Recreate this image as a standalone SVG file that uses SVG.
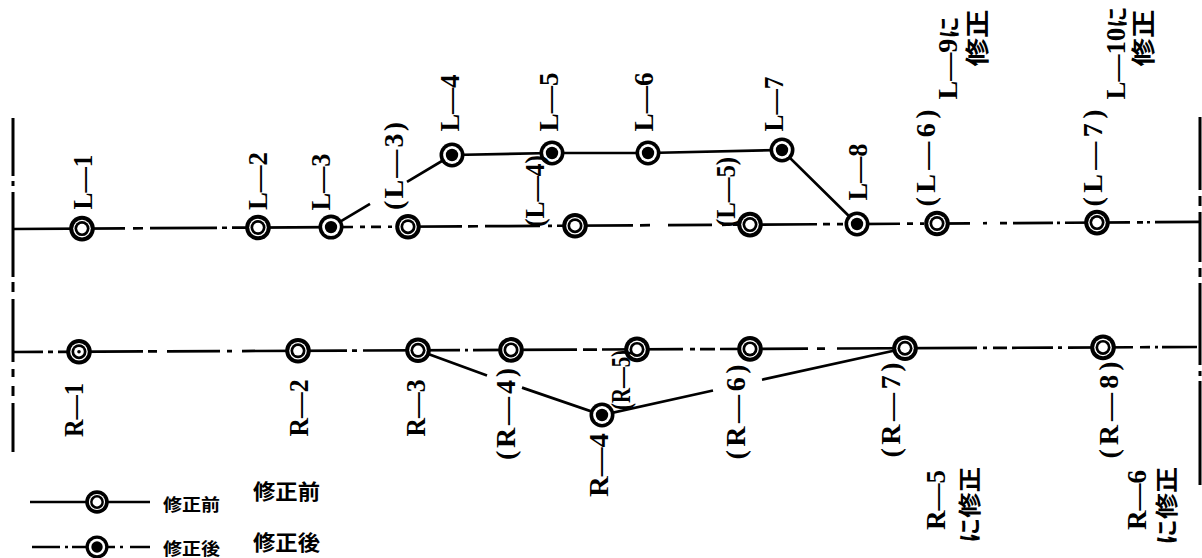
<svg xmlns="http://www.w3.org/2000/svg" width="1202" height="558" viewBox="0 0 1202 558">
<style>
.ln{fill:none;stroke:#000;stroke-width:2.7;stroke-linecap:butt}
.bd{fill:none;stroke:#000;stroke-width:3}
.lb{font-family:"Liberation Serif","Noto Sans CJK JP",serif;font-weight:bold;font-size:28px;fill:#000}
.jp{font-family:"Noto Sans CJK JP",sans-serif;font-weight:bold;fill:#000}
</style>
<defs>
<g id="open"><circle r="12.8" fill="#000"/><circle r="8.8" fill="#fff"/><circle r="7.5" fill="#000"/><circle r="4.8" fill="#fff"/></g>
<g id="filled"><circle r="12.5" fill="#000"/><circle r="8.9" fill="#fff"/><circle r="6.2" fill="#000"/></g>
</defs>
<rect width="1202" height="558" fill="#fff"/>
<g id="connectors">
<path class="bd" d="M13 118V176M13 181V186M13 192V277M13 282V292M13 299V362M13 369V377M13 386V396M13 403V452"/>
<path class="bd" d="M1200 117V190M1200 196V206M1200 212V262M1200 268V277M1200 283V365M1200 371V376M1200 381V485"/>
<path class="ln" transform="rotate(-0.34 13 229)" d="M13 229H125M133 229H143M150 229H217M222 229H227M232 229H331M331 229H353M360 229H365M371 229H381M388 229H392M396 229H462M468 229H478M485 229H540M548 229H552M557 229H633M640 229H650M668 229H712M722 229H727M733 229H817M823 229H830M837 229H843M848 229H900M907 229H913M920 229H924M930 229H970M983 229H987M1000 229H1007M1013 229H1053M1057 229H1060M1065 229H1130M1137 229H1143M1147 229H1150M1155 229H1200"/>
<path class="ln" transform="rotate(-0.242 13 352)" d="M13 352H43M48 352H53M58 352H143M148 352H157M167 352H220M227 352H232M242 352H347M352 352H357M363 352H460M465 352H468M473 352H577M583 352H597M602 352H683M690 352H695M700 352H715M720 352H808M817 352H825M837 352H977M983 352H987M993 352H1007M1012 352H1053M1058 352H1062M1068 352H1133M1140 352H1150M1155 352H1158M1162 352H1197"/>
<path class="ln" d="M331 227.1L370 203.8M407 181.8L452 155M452 155L552 153L648 153L782 150L857 224"/>
<path class="ln" d="M418 350.3L487 375.6M522 387.6L602 415L713 390.5M762 379.7L905 348.2"/>
<path class="ln" d="M30 502H150M32 547H60M65 547H68M72 547H86M108 547H115M120 547H123M130 547H150"/>
</g>
<g id="n-L1"><use href="#open" x="82" y="228.6"/><text class="lb" transform="translate(82,182) rotate(-90)" y="9.5" text-anchor="middle" textLength="55" lengthAdjust="spacingAndGlyphs">L—1</text></g>
<g id="n-L2"><use href="#open" x="258" y="227.5"/><text class="lb" transform="translate(257,181) rotate(-90)" y="9.5" text-anchor="middle" textLength="58" lengthAdjust="spacingAndGlyphs">L—2</text></g>
<g id="n-L3"><use href="#filled" x="331" y="227.1"/><text class="lb" transform="translate(320,182) rotate(-90)" y="9.5" text-anchor="middle" textLength="57" lengthAdjust="spacingAndGlyphs">L—3</text></g>
<g id="n-L3old"><use href="#open" x="408" y="226.7"/><text class="lb" transform="translate(393,166) rotate(-90)" y="9.5" text-anchor="middle" textLength="88" lengthAdjust="spacing">(L—3)</text></g>
<g id="n-L4"><use href="#filled" x="452" y="155"/><text class="lb" transform="translate(449,103) rotate(-90)" y="9.5" text-anchor="middle" textLength="57" lengthAdjust="spacingAndGlyphs">L—4</text></g>
<g id="n-L5"><use href="#filled" x="552" y="153"/><text class="lb" transform="translate(548,102) rotate(-90)" y="9.5" text-anchor="middle" textLength="59" lengthAdjust="spacingAndGlyphs">L—5</text></g>
<g id="n-L6"><use href="#filled" x="648" y="153"/><text class="lb" transform="translate(643,102) rotate(-90)" y="9.5" text-anchor="middle" textLength="59" lengthAdjust="spacingAndGlyphs">L—6</text></g>
<g id="n-L7"><use href="#filled" x="782" y="150"/><text class="lb" transform="translate(773,104) rotate(-90)" y="9.5" text-anchor="middle" textLength="55" lengthAdjust="spacingAndGlyphs">L—7</text></g>
<g id="n-L4old"><use href="#open" x="575" y="225.7"/><text class="lb" transform="translate(534,191) rotate(-90)" y="9.5" text-anchor="middle" textLength="72" lengthAdjust="spacingAndGlyphs">(L—4)</text></g>
<g id="n-L5old"><use href="#open" x="750" y="224.6"/><text class="lb" transform="translate(725,192) rotate(-90)" y="9.5" text-anchor="middle" textLength="70" lengthAdjust="spacingAndGlyphs">(L—5)</text></g>
<g id="n-L8"><use href="#filled" x="857" y="224"/><text class="lb" transform="translate(857,172) rotate(-90)" y="9.5" text-anchor="middle" textLength="57" lengthAdjust="spacingAndGlyphs">L—8</text></g>
<g id="n-L6old"><use href="#open" x="937" y="223.5"/><text class="lb" transform="translate(925,158) rotate(-90)" y="9.5" text-anchor="middle" textLength="97" lengthAdjust="spacing">(L—6)</text>
<text class="lb" transform="translate(947,58) rotate(-90)" y="9.5" text-anchor="middle" textLength="83" lengthAdjust="spacingAndGlyphs">L—9<tspan class="jp" font-size="22">に</tspan></text>
<text class="jp" font-size="24" transform="translate(975,38) rotate(-90)" text-anchor="middle" dominant-baseline="central" textLength="57" lengthAdjust="spacingAndGlyphs">修正</text></g>
<g id="n-L7old"><use href="#open" x="1097" y="222.6"/><text class="lb" transform="translate(1092,158) rotate(-90)" y="9.5" text-anchor="middle" textLength="97" lengthAdjust="spacing">(L—7)</text>
<text class="lb" transform="translate(1115,53) rotate(-90)" y="9.5" text-anchor="middle" textLength="93" lengthAdjust="spacingAndGlyphs">L—10<tspan class="jp" font-size="22">に</tspan></text>
<text class="jp" font-size="24" transform="translate(1141,38) rotate(-90)" text-anchor="middle" dominant-baseline="central" textLength="57" lengthAdjust="spacingAndGlyphs">修正</text></g>
<g id="n-R1"><use href="#open" x="79" y="351.7"/><circle cx="79" cy="351.7" r="1.8" fill="#000"/><text class="lb" transform="translate(73,410) rotate(-90)" y="9.5" text-anchor="middle" textLength="54" lengthAdjust="spacingAndGlyphs">R—1</text></g>
<g id="n-R2"><use href="#open" x="298" y="350.8"/><text class="lb" transform="translate(298,408) rotate(-90)" y="9.5" text-anchor="middle" textLength="57" lengthAdjust="spacingAndGlyphs">R—2</text></g>
<g id="n-R3"><use href="#open" x="418" y="350.3"/><text class="lb" transform="translate(415,408) rotate(-90)" y="9.5" text-anchor="middle" textLength="57" lengthAdjust="spacingAndGlyphs">R—3</text></g>
<g id="n-R4old"><use href="#open" x="511" y="349.9"/><text class="lb" transform="translate(505,414) rotate(-90)" y="9.5" text-anchor="middle" textLength="92" lengthAdjust="spacing">(R—4)</text></g>
<g id="n-R4"><use href="#filled" x="602" y="415"/><text class="lb" transform="translate(598,465) rotate(-90)" y="9.5" text-anchor="middle" textLength="64" lengthAdjust="spacingAndGlyphs">R—4</text></g>
<g id="n-R5old"><use href="#open" x="637" y="349.4"/><text class="lb" transform="translate(620,380) rotate(-90)" y="9.5" text-anchor="middle" textLength="60" lengthAdjust="spacingAndGlyphs">(R—5)</text></g>
<g id="n-R6old"><use href="#open" x="750" y="348.9"/><text class="lb" transform="translate(735,412) rotate(-90)" y="9.5" text-anchor="middle" textLength="95" lengthAdjust="spacing">(R—6)</text></g>
<g id="n-R7old"><use href="#open" x="905" y="348.2"/><text class="lb" transform="translate(890,410) rotate(-90)" y="9.5" text-anchor="middle" textLength="95" lengthAdjust="spacing">(R—7)</text>
<text class="lb" transform="translate(935,500) rotate(-90)" y="9.5" text-anchor="middle" textLength="60" lengthAdjust="spacingAndGlyphs">R—5</text>
<text class="jp" font-size="23" transform="translate(968,505) rotate(-90)" text-anchor="middle" dominant-baseline="central" textLength="76" lengthAdjust="spacingAndGlyphs">に修正</text></g>
<g id="n-R8old"><use href="#open" x="1103" y="347.4"/><text class="lb" transform="translate(1108,410) rotate(-90)" y="9.5" text-anchor="middle" textLength="97" lengthAdjust="spacing">(R—8)</text>
<text class="lb" transform="translate(1136,500) rotate(-90)" y="9.5" text-anchor="middle" textLength="60" lengthAdjust="spacingAndGlyphs">R—6</text>
<text class="jp" font-size="23" transform="translate(1165,506) rotate(-90)" text-anchor="middle" dominant-baseline="central" textLength="78" lengthAdjust="spacingAndGlyphs">に修正</text></g>
<g id="legend">
<use href="#open" transform="translate(97,502) scale(0.92)"/>
<use href="#filled" transform="translate(97,547) scale(0.92)"/>
<text class="jp" font-size="17" x="163" y="503" dominant-baseline="central" textLength="57" lengthAdjust="spacingAndGlyphs">修正前</text>
<text class="jp" font-size="17" x="163" y="547" dominant-baseline="central" textLength="57" lengthAdjust="spacingAndGlyphs">修正後</text>
<text class="jp" font-size="21" x="253" y="490" dominant-baseline="central" textLength="67" lengthAdjust="spacingAndGlyphs">修正前</text>
<text class="jp" font-size="21" x="253" y="541" dominant-baseline="central" textLength="67" lengthAdjust="spacingAndGlyphs">修正後</text>
</g>
</svg>
